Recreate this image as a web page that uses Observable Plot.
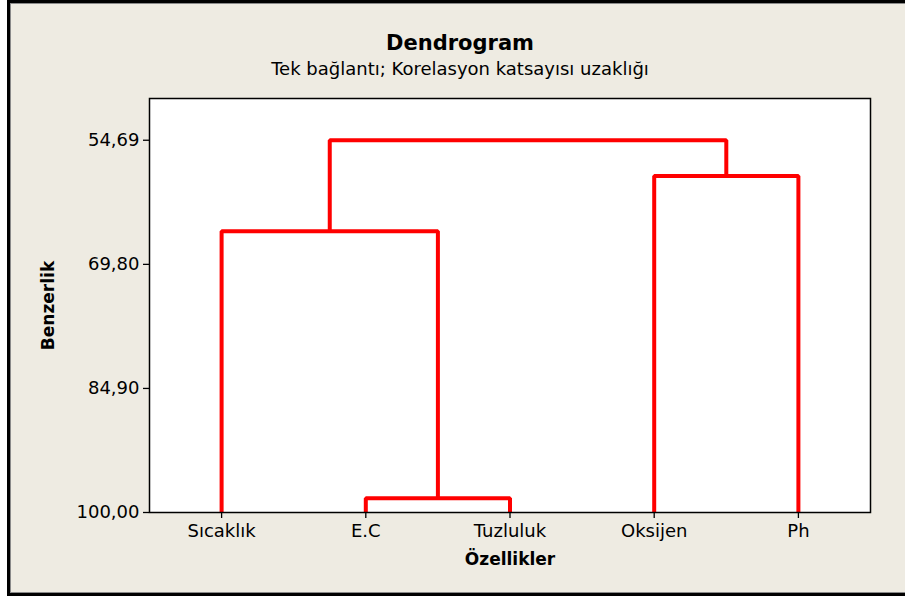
<!DOCTYPE html>
<html>
<head>
<meta charset="utf-8">
<script src="https://cdn.jsdelivr.net/npm/d3@7"></script>
<script src="https://cdn.jsdelivr.net/npm/@observablehq/plot@0.6"></script>
<style>
  body { margin: 0; background: #ffffff; width: 905px; height: 601px; overflow: hidden; position: relative; font-family: "DejaVu Sans", sans-serif; }
  #frame { position: absolute; left: 7px; top: 0; width: 1000px; height: 590px; border: 3px solid #000; background: #eeebe2; box-shadow: inset 0 0 0 1px #8a8a8a; }
  #title { position: absolute; left: 0; width: 920px; top: 31px; text-align: center; font-weight: bold; font-size: 21px; color: #000; line-height: 24px; }
  #subtitle { position: absolute; left: 0; width: 920px; top: 58px; text-align: center; font-size: 18px; color: #000; line-height: 22px; }
  #chart { position: absolute; left: 0; top: 90px; }
</style>
</head>
<body>
<div id="frame"></div>
<div id="title">Dendrogram</div>
<div id="subtitle">Tek bağlantı; Korelasyon katsayısı uzaklığı</div>
<div id="chart"></div>
<script>
// Leaves (in display order)
const leaves = ["Sıcaklık", "E.C", "Tuzluluk", "Oksijen", "Ph"];
// Merges (single linkage, similarity level)
const nodeIds    = ["C1", "C2", "C3", "C4"];
const childLeft  = ["E.C", "Sıcaklık", "Oksijen", "C2"];
const childRight = ["Tuzluluk", "C1", "Ph", "C3"];
const similarity = [98.27, 65.78, 59.04, 54.69];
// Axis ticks
const yTicks = [54.69, 69.80, 84.90, 100.00];
const yTop = 49.61;
const leafLevel = 100;

const pos = new Map(leaves.map((d, i) => [d, i]));
const lev = new Map(leaves.map(d => [d, leafLevel]));
const segs = [];
nodeIds.forEach((id, k) => {
  const a = childLeft[k], b = childRight[k], h = similarity[k];
  const xa = pos.get(a), xb = pos.get(b);
  segs.push({id, x: xa, y: lev.get(a)}, {id, x: xa, y: h}, {id, x: xb, y: h}, {id, x: xb, y: lev.get(b)});
  pos.set(id, (xa + xb) / 2);
  lev.set(id, h);
});

const fmt = d => d.toFixed(2).replace(".", ",");

const chart = Plot.plot({
  width: 905,
  height: 511,
  marginTop: 8,
  marginBottom: 89,
  marginLeft: 149,
  marginRight: 35,
  style: { background: "transparent", fontFamily: "DejaVu Sans", fontSize: "18px", color: "#000", overflow: "visible" },
  x: { domain: [-0.5, leaves.length - 0.5] },
  y: { domain: [leafLevel, yTop] },
  marks: [
    Plot.frame({ fill: "white" }),
    Plot.line(segs, { x: "x", y: "y", z: "id", stroke: "#ff0000", strokeWidth: 4, strokeLinejoin: "miter", strokeLinecap: "butt" }),
    Plot.frame({ stroke: "#000", strokeWidth: 1.5 }),
    Plot.axisY({ ticks: yTicks, tickFormat: fmt, tickSize: 6, tickPadding: 4, fontSize: 18, label: null, stroke: "#000", strokeWidth: 1.3 }),
    Plot.axisX({ ticks: d3.range(leaves.length), tickFormat: i => leaves[i], tickSize: 6, tickPadding: 6, fontSize: 18, label: null, stroke: "#000", strokeWidth: 1.3 }),
    Plot.text(["Benzerlik"], { frameAnchor: "left", dx: -101, rotate: -90, textAnchor: "middle", fontWeight: "bold", fontSize: 17, fill: "#000" }),
    Plot.text(["Özellikler"], { frameAnchor: "bottom", dy: 47, textAnchor: "middle", lineAnchor: "middle", fontWeight: "bold", fontSize: 17, fill: "#000" })
  ]
});
document.getElementById("chart").appendChild(chart);
</script>
</body>
</html>
